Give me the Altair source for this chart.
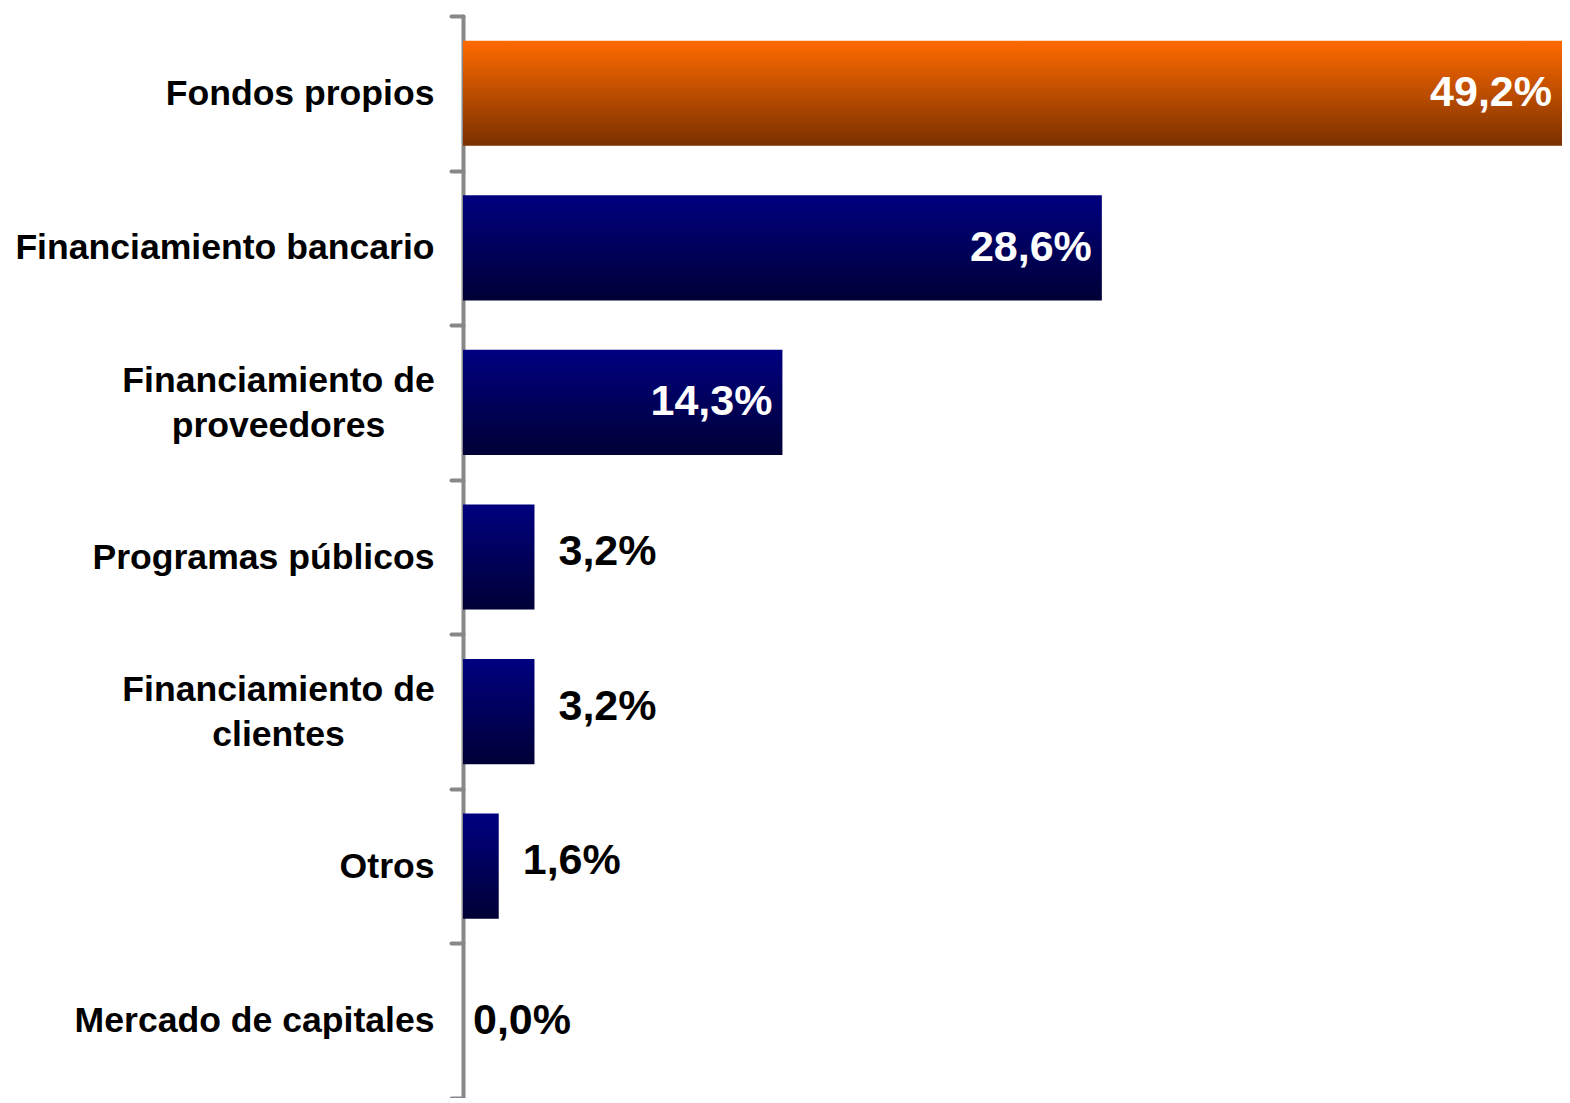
import altair as alt
import pandas as pd

categories = [
    "Fondos propios",
    "Financiamiento bancario",
    "Financiamiento de\nproveedores",
    "Programas públicos",
    "Financiamiento de\nclientes",
    "Otros",
    "Mercado de capitales",
]
values = [49.2, 28.6, 14.3, 3.2, 3.2, 1.6, 0.0]
highlight = [True, False, False, False, False, False, False]

df = pd.DataFrame({"cat": categories, "value": values, "hl": highlight})
df["label"] = [f"{v:.1f}".replace(".", ",") + "%" for v in values]
df["inside"] = df["value"] > 10

orange = alt.Gradient(
    gradient="linear", x1=0, x2=0, y1=0, y2=1,
    stops=[alt.GradientStop(color="#FF6A00", offset=0),
           alt.GradientStop(color="#7A3000", offset=1)],
)
navy = alt.Gradient(
    gradient="linear", x1=0, x2=0, y1=0, y2=1,
    stops=[alt.GradientStop(color="#000080", offset=0),
           alt.GradientStop(color="#000036", offset=1)],
)

multi = "indexof(datum.label, '\\n') >= 0"

y_enc = alt.Y(
    "cat:N", sort=categories, title=None,
    scale=alt.Scale(paddingInner=0, paddingOuter=0),
    axis=alt.Axis(
        labelExpr="split(datum.label, '\\n')",
        labelFont="Liberation Sans", labelFontSize=35.6, labelFontWeight="bold",
        labelColor="black", labelLineHeight=45,
        labelAlign={"condition": {"test": multi, "value": "center"}, "value": "right"},
        labelPadding={"condition": {"test": multi, "value": 173}, "value": 17},
        labelOffset={"condition": {"test": multi, "value": -22}, "value": 0},
        labelLimit=500,
        domainColor="#888888", domainWidth=4, domainCap="round",
        tickColor="#888888", tickWidth=4, tickSize=12, tickCap="round",
        tickBand="extent",
    ),
)
x_enc = alt.X("value:Q", title=None,
              scale=alt.Scale(domain=[0, 49.2], nice=False, zero=True),
              axis=None)

base = alt.Chart(df)
bh = alt.RelativeBandSize(band=0.68)

bars_o = base.transform_filter("datum.hl").mark_bar(color=orange, height=bh).encode(x=x_enc, y=y_enc)
bars_n = base.transform_filter("!datum.hl").mark_bar(color=navy, height=bh).encode(x=x_enc, y=y_enc)

txt_in = base.transform_filter("datum.inside").mark_text(
    align="right", baseline="middle", dx=-10, font="Liberation Sans",
    fontSize=43, fontWeight="bold", color="white",
).encode(x=x_enc, y=y_enc, text="label:N")

txt_out = base.transform_filter("!datum.inside && datum.value > 0").mark_text(
    align="left", baseline="middle", dx=24, dy=-5, font="Liberation Sans",
    fontSize=43, fontWeight="bold", color="black",
).encode(x=x_enc, y=y_enc, text="label:N")

txt_zero = base.transform_filter("datum.value == 0").mark_text(
    align="left", baseline="middle", dx=10, dy=0, font="Liberation Sans",
    fontSize=43, fontWeight="bold", color="black",
).encode(x=x_enc, y=y_enc, text="label:N")

chart = alt.layer(bars_o, bars_n, txt_in, txt_out, txt_zero).properties(
    width=1099, height=1082,
    autosize=alt.AutoSizeParams(type="none"),
    padding={"left": 455, "top": 8, "right": 0, "bottom": 0},
    background="white",
).configure_view(stroke=None)

chart.save("out.html", embed_options={"renderer": "svg", "actions": False})
